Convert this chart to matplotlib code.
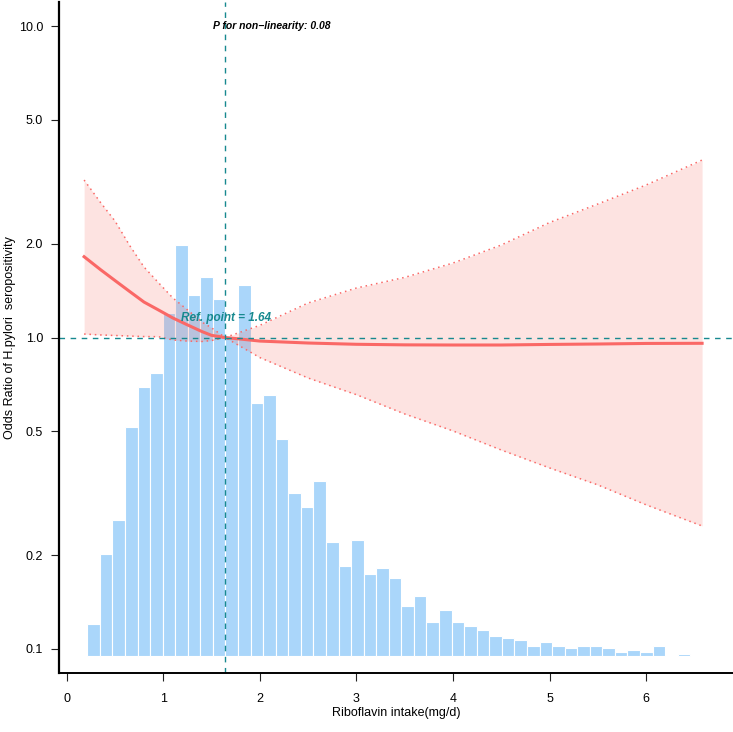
import numpy as np
import matplotlib
matplotlib.use("Agg")
import matplotlib.pyplot as plt

plt.rcParams['font.family'] = ['Liberation Sans', 'DejaVu Sans']

# histogram of riboflavin intake (48 equal bins)
bin_start = 0.213
bin_width = 0.1301
counts = [16, 51, 68, 114, 134, 141, 171, 205, 180, 189, 178, 159, 185, 126, 130, 108,
          81, 74, 87, 57, 45, 58, 41, 44, 39, 25, 30, 17, 23, 17, 15, 13,
          10, 9, 8, 5, 7, 5, 4, 5, 5, 4, 2, 3, 2, 5, 0, 1]

# restricted cubic spline: odds ratio and 95% CI
x_vals = [0.18, 0.35, 0.5, 0.65, 0.8, 0.95, 1.1, 1.25, 1.4, 1.5, 1.64,
          2.0, 2.5, 3.0, 3.5, 4.0, 4.5, 5.0, 5.5, 6.0, 6.58]
or_vals = [1.818, 1.652, 1.524, 1.407, 1.300, 1.226, 1.155, 1.098, 1.045, 1.016, 1.0,
           0.974, 0.960, 0.951, 0.947, 0.946, 0.946, 0.950, 0.953, 0.957, 0.958]
upper = [3.206, 2.715, 2.367, 1.979, 1.685, 1.500, 1.339, 1.227, 1.121, 1.074, 1.0,
         1.094, 1.291, 1.442, 1.560, 1.735, 1.982, 2.341, 2.685, 3.090, 3.717]
lower = [1.026, 1.019, 1.015, 1.011, 1.007, 1.006, 0.982, 0.974, 0.971, 0.978, 1.0,
         0.862, 0.741, 0.655, 0.568, 0.501, 0.435, 0.381, 0.336, 0.290, 0.248]

ref_point = 1.64
p_nonlin = 0.08
y_ticks = [0.1, 0.2, 0.5, 1.0, 2.0, 5.0, 10.0]
x_ticks = [0, 1, 2, 3, 4, 5, 6]

line_col = "#FA6866"
teal = "#17898F"
bar_col = "#AAD6FA"

fig = plt.figure(figsize=(7.33, 7.32), dpi=100)
pos = [59 / 733, 59 / 732, 674 / 733, 671 / 732]

# histogram on its own linear axis, underneath
axh = fig.add_axes(pos)
edges = bin_start + bin_width * np.arange(len(counts))
axh.bar(edges, counts, width=bin_width, align='edge', color=bar_col,
        edgecolor='white', linewidth=0.8)
cmax = max(counts)
axh.set_ylim(-0.0421 * cmax, 1.592 * cmax)
axh.set_xlim(-0.08, 6.90)
axh.axis('off')

# main axis with OR curve
ax = fig.add_axes(pos)
ax.patch.set_visible(False)
ax.set_yscale('log')
ax.fill_between(x_vals, lower, upper, color="#F8766D", alpha=0.2, linewidth=0)
ax.plot(x_vals, upper, color=line_col, lw=1.1, linestyle=(0, (1, 2.5)))
ax.plot(x_vals, lower, color=line_col, lw=1.1, linestyle=(0, (1, 2.5)))
ax.plot(x_vals, or_vals, color=line_col, lw=2.2)

ax.axhline(1.0, color=teal, lw=1, linestyle=(0, (4, 4)))
ax.axvline(ref_point, color=teal, lw=1, linestyle=(0, (4, 4)))

ax.text(ref_point + 0.01, 1.155, f"Ref. point = {ref_point:.2f}", color=teal,
        fontsize=8.5, fontweight='bold', fontstyle='italic', ha='center', va='center')
ax.text(2.12, 10.0, f"P for non\u2212linearity: {p_nonlin:.2f}", color='black',
        fontsize=7.5, fontweight='bold', fontstyle='italic', ha='center', va='center')

ax.set_xlim(-0.08, 6.90)
ax.set_ylim(10 ** -1.078, 10 ** 1.078)
ax.set_yticks(y_ticks)
ax.set_yticklabels([f"{v:.1f}" for v in y_ticks])
ax.yaxis.set_minor_locator(matplotlib.ticker.NullLocator())
ax.set_xticks(x_ticks)
ax.set_xticklabels([str(v) for v in x_ticks])

ax.spines['top'].set_visible(False)
ax.spines['right'].set_visible(False)
ax.spines['left'].set_linewidth(1.6)
ax.spines['bottom'].set_linewidth(1.4)
ax.tick_params(axis='both', labelsize=9, length=5.5, width=0.8, color='#222222')
ax.tick_params(axis='y', pad=6)
ax.tick_params(axis='x', pad=9)

ax.set_xlabel("Riboflavin intake(mg/d)", fontsize=9)
ax.set_ylabel("Odds Ratio of H.pylori  seropositivity", fontsize=9)
ax.xaxis.label.set_va('center')
ax.yaxis.label.set_va('center')
ax.xaxis.set_label_coords(0.5, -0.0596)
ax.yaxis.set_label_coords(-0.0727, 0.5)

fig.savefig("out.png", dpi=100)
